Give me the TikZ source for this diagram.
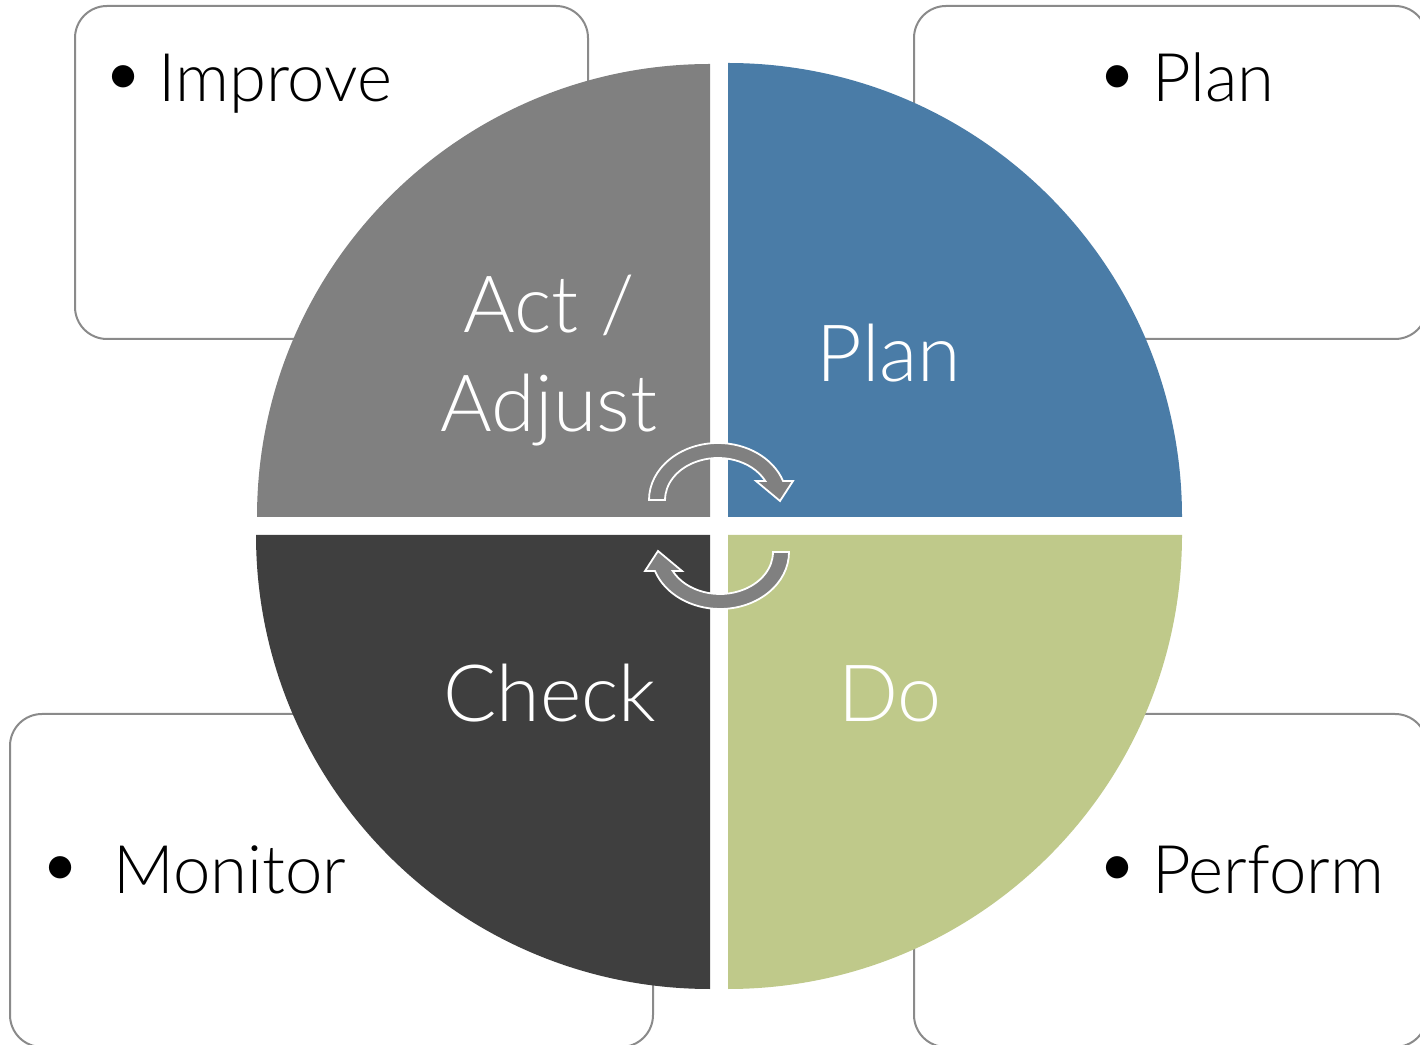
\documentclass[tikz,border=0pt]{standalone}
\usepackage{fontspec}
\setmainfont{Lato Light}
\definecolor{actgray}{RGB}{128,128,128}
\definecolor{planblue}{RGB}{74,124,167}
\definecolor{checkdark}{RGB}{63,63,63}
\definecolor{dogreen}{RGB}{191,201,138}
\definecolor{boxline}{RGB}{138,138,138}
\begin{document}
\begin{tikzpicture}[x=1pt,y=1pt,
  infobox/.style={draw=boxline,line width=2pt,fill=white,rounded corners=32pt,inner sep=0pt,minimum height=333pt},
  bigword/.style={text=white,font=\fontsize{79}{99}\selectfont,inner sep=0pt},
  itemword/.style={text=black,font=\fontsize{67}{78}\selectfont,inner sep=0pt,anchor=base west},
  dot/.style={text=black,font=\fontsize{76}{76}\selectfont,inner sep=0pt,anchor=center},
  turnarrow/.style={fill=actgray,draw=white,line width=1.8pt,line join=miter}
]
\useasboundingbox (0,0) rectangle (1420,1044);
\begin{scope}
\clip (0,0) rectangle (1420,1044);
\node[infobox,minimum width=513pt] (bTL) at (331.5,871.5) {};
\node[infobox,minimum width=513pt] (bTR) at (1170.5,871.5) {};
\node[infobox,minimum width=643pt] (bBL) at (331.5,163.5) {};
\node[infobox,minimum width=513pt] (bBR) at (1170.5,163.5) {};
\end{scope}
% quadrants
\fill[actgray] (710,527) -- (257,527) arc[start angle=180,end angle=90,radius=453] -- cycle;
\fill[planblue] (728,527) -- (1182,527) arc[start angle=0,end angle=90,radius=454] -- cycle;
\fill[checkdark] (710,509) -- (256,509) arc[start angle=180,end angle=270,radius=454] -- cycle;
\fill[dogreen] (728,509) -- (1182,509) arc[start angle=0,end angle=-90,radius=454] -- cycle;
% labels in circle
\node[bigword,anchor=base] (lplan) at (889,662) {Plan};
\node[bigword,anchor=base] (ldo) at (890,322) {Do};
\node[bigword,anchor=base] (lcheck) at (550,322) {Check};
\node[bigword,anchor=base,align=center] (lact) at (549,612) {Act /\\Adjust};
% cycle arrows
\foreach \r in {0,180}{
  \filldraw[turnarrow,rotate around={\r:(719,518)}]
    (649,544) arc[start angle=180,end angle=19.5,x radius=69,y radius=57]
    -- (793,563) -- (780,543) -- (756,563) -- (765.3,563)
    arc[start angle=26.9,end angle=180,x radius=53,y radius=42] -- cycle;
}
% box items
\node[dot] (d1) at (124,961) {\textbullet};
\node[itemword] (t1) at (158,942) {Improve};
\node[dot] (d2) at (1118,961) {\textbullet};
\node[itemword] (t2) at (1152,942) {Plan};
\node[dot] (d3) at (61,170) {\textbullet};
\node[itemword] (t3) at (113,151) {Monitor};
\node[dot] (d4) at (1118,170) {\textbullet};
\node[itemword] (t4) at (1152,151) {Perform};
\end{tikzpicture}
\end{document}
